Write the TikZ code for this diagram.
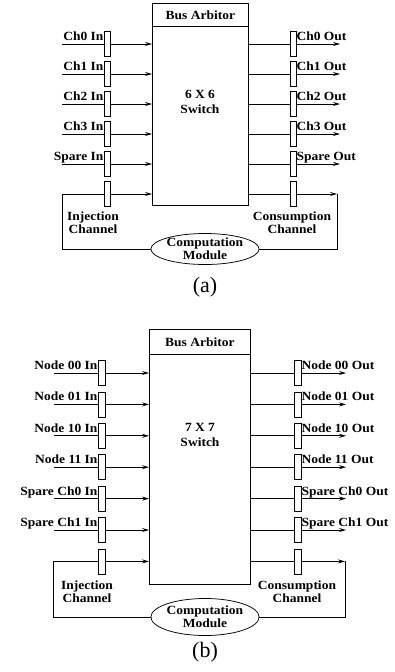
\documentclass[tikz,border=0pt]{standalone}
\usepackage{fontspec}
\setmainfont{Liberation Serif}
\newfontfamily\lblfont[FakeStretch=1.08,BoldFont={Liberation Serif Bold}]{Liberation Serif}
\usetikzlibrary{arrows.meta,shapes.geometric}
\tikzset{
  ln/.style={line width=0.75pt},
  arr/.style={ln,-{Stealth[length=7pt,width=4pt,inset=2.5pt]}},
  bufa/.style={draw,ln,fill=white,rectangle,minimum width=6pt,minimum height=25pt,inner sep=0pt},
  bufb/.style={draw,ln,fill=white,rectangle,minimum width=7pt,minimum height=25pt,inner sep=0pt},
  lbl/.style={font=\lblfont\bfseries\fontsize{12.5}{13}\selectfont,inner sep=0pt},
  two/.style={lbl,align=center},
  swt/.style={font=\lblfont\bfseries\fontsize{12.5}{15}\selectfont,inner sep=0pt,align=center},
  captxt/.style={font=\fontsize{22}{24}\selectfont,inner sep=0pt},
  cmod/.style={draw,ln,ellipse,inner sep=0pt,two}
}
\begin{document}
\begin{tikzpicture}[x=1pt,y=-1pt]
\useasboundingbox (0,0) rectangle (395,672);
% ---------- (a) ----------
\node[draw,ln,rectangle,inner sep=0pt,minimum width=96pt,minimum height=23pt,anchor=north west] (arba) at (152,3) {};
\node[lbl] (arbat) at (arba.center) {Bus Arbitor};
\node[draw,ln,rectangle,inner sep=0pt,minimum width=96pt,minimum height=179pt,anchor=north west] (swa) at (152,26) {};
\node[swt] (swat) at (200,102) {6 X 6\\Switch};
\foreach \i/\ti/\to in {0/Ch0 In/Ch0 Out,1/Ch1 In/Ch1 Out,2/Ch2 In/Ch2 Out,3/Ch3 In/Ch3 Out,4/Spare In/Spare Out}{
  \coordinate (ai\i) at (62,44+30*\i);
  \coordinate (ao\i) at (340,44+30*\i);
  \draw[arr] (ai\i) -- (ai\i -| swa.west);
  \draw[arr] (swa.east |- ao\i) -- (ao\i);
  \node[bufa] (bai\i) at (107,44+30*\i) {};
  \node[bufa] (bao\i) at (293,44+30*\i) {};
  \node[lbl,anchor=base east] (lai\i) at ([yshift=4pt]bai\i.west |- ai\i) {\ti};
  \node[lbl,anchor=base west] (lao\i) at ([yshift=4pt]bao\i.east |- ao\i) {\to};
}
\node[cmod,minimum width=96pt,minimum height=31pt] (cma) at (205,249) {Computation\\Module};
\coordinate (ainj) at (62,194);
\coordinate (acon) at (337,194);
\draw[arr] (cma.west) -| (ainj) -- (ainj -| swa.west);
\draw[arr] (swa.east |- acon) -- (acon);
\draw[ln] (acon) |- (cma.east);
\node[bufa] (bainj) at (107,194) {};
\node[bufa] (bacon) at (293,194) {};
\node[two] (linja) at (93,223) {Injection\\Channel};
\node[two] (lcona) at (292,223) {Consumption\\Channel};
\node[captxt] (capa) at (205,287) {(a)};
% ---------- (b) ----------
\node[draw,ln,rectangle,inner sep=0pt,minimum width=101pt,minimum height=25pt,anchor=north west] (arbb) at (149,329) {};
\node[lbl] (arbbt) at (arbb.center) {Bus Arbitor};
\node[draw,ln,rectangle,inner sep=0pt,minimum width=101pt,minimum height=230pt,anchor=north west] (swb) at (149,354) {};
\node[swt] (swbt) at (200,435) {7 X 7\\Switch};
\foreach \i/\ti/\to in {0/Node 00 In/Node 00 Out,1/Node 01 In/Node 01 Out,2/Node 10 In/Node 10 Out,3/Node 11 In/Node 11 Out,4/Spare Ch0 In/Spare Ch0 Out,5/Spare Ch1 In/Spare Ch1 Out}{
  \coordinate (bi\i) at (54,373+31.4*\i);
  \coordinate (bo\i) at (346,373+31.4*\i);
  \draw[arr] (bi\i) -- (bi\i -| swb.west);
  \draw[arr] (swb.east |- bo\i) -- (bo\i);
  \node[bufb] (bbi\i) at (101.5,373+31.4*\i) {};
  \node[bufb] (bbo\i) at (297.5,373+31.4*\i) {};
  \node[lbl,anchor=base east] (lbi\i) at ([yshift=3.5pt]bbi\i.west |- bi\i) {\ti};
  \node[lbl,anchor=base west] (lbo\i) at ([yshift=3.5pt]bbo\i.east |- bo\i) {\to};
}
\node[cmod,minimum width=103pt,minimum height=37pt] (cmb) at (205,617) {Computation\\Module};
\coordinate (binj) at (53,561.4);
\coordinate (bcon) at (345,561.4);
\draw[arr] (cmb.west) -| (binj) -- (binj -| swb.west);
\draw[arr] (swb.east |- bcon) -- (bcon);
\draw[ln] (bcon) |- (cmb.east);
\node[bufb] (bbinj) at (101.5,561.4) {};
\node[bufb] (bbcon) at (297.5,561.4) {};
\node[two] (linjb) at (87,592) {Injection\\Channel};
\node[two] (lconb) at (297,592) {Consumption\\Channel};
\node[captxt] (capb) at (205,652) {(b)};
\end{tikzpicture}
\end{document}
